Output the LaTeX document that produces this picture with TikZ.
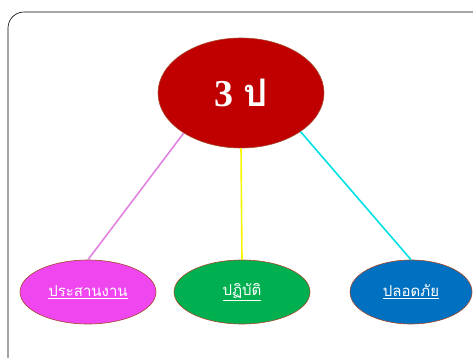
\documentclass[tikz,border=0pt]{standalone}
\usepackage{fontspec}
\setmainfont{Liberation Serif}
\newfontfamily\thaifont[Script=Thai]{Loma}
\usetikzlibrary{shapes.geometric, positioning}
\definecolor{rimbrown}{RGB}{165,70,40}
\definecolor{topred}{RGB}{192,0,0}
\definecolor{pinkfill}{RGB}{240,70,240}
\definecolor{greenfill}{RGB}{0,176,80}
\definecolor{bluefill}{RGB}{0,112,192}
\definecolor{pinkline}{RGB}{225,130,225}
\definecolor{yellowline}{RGB}{250,245,0}
\definecolor{cyanline}{RGB}{0,225,230}
\tikzset{
  blob/.style={ellipse, draw=rimbrown, line width=0.6pt, inner sep=0pt, text=white},
  leaf/.style={blob, minimum width=136pt, minimum height=64pt, font=\thaifont\fontsize{15}{17}\selectfont},
  link/.style={line width=1.6pt}
}
\begin{document}
\begin{tikzpicture}[x=1pt, y=-1pt]
\useasboundingbox (0,0) rectangle (473,358);
\draw[rounded corners=16pt, line width=0.6pt] (8,12) rectangle (490,375);
\node[blob, fill=topred, minimum width=166pt, minimum height=110pt, font=\bfseries\fontsize{38}{42}\selectfont] (top) at (241,93) {3 {\thaifont ป}};
\node[leaf, fill=pinkfill] (work) at (88,292) {\underline{ประสานงาน}};
\node[leaf, fill=greenfill] (act) at (242,292) {\underline{ปฏิบัติ}};
\node[leaf, fill=bluefill, minimum width=122pt] (safe) at (411,292) {\underline{ปลอดภัย}};
\draw[link, color=pinkline] (top.-145) -- (work.north);
\draw[link, color=yellowline] (top.-90) -- (act.north);
\draw[link, color=cyanline] (top.-33) -- (safe.north);
\end{tikzpicture}
\end{document}
